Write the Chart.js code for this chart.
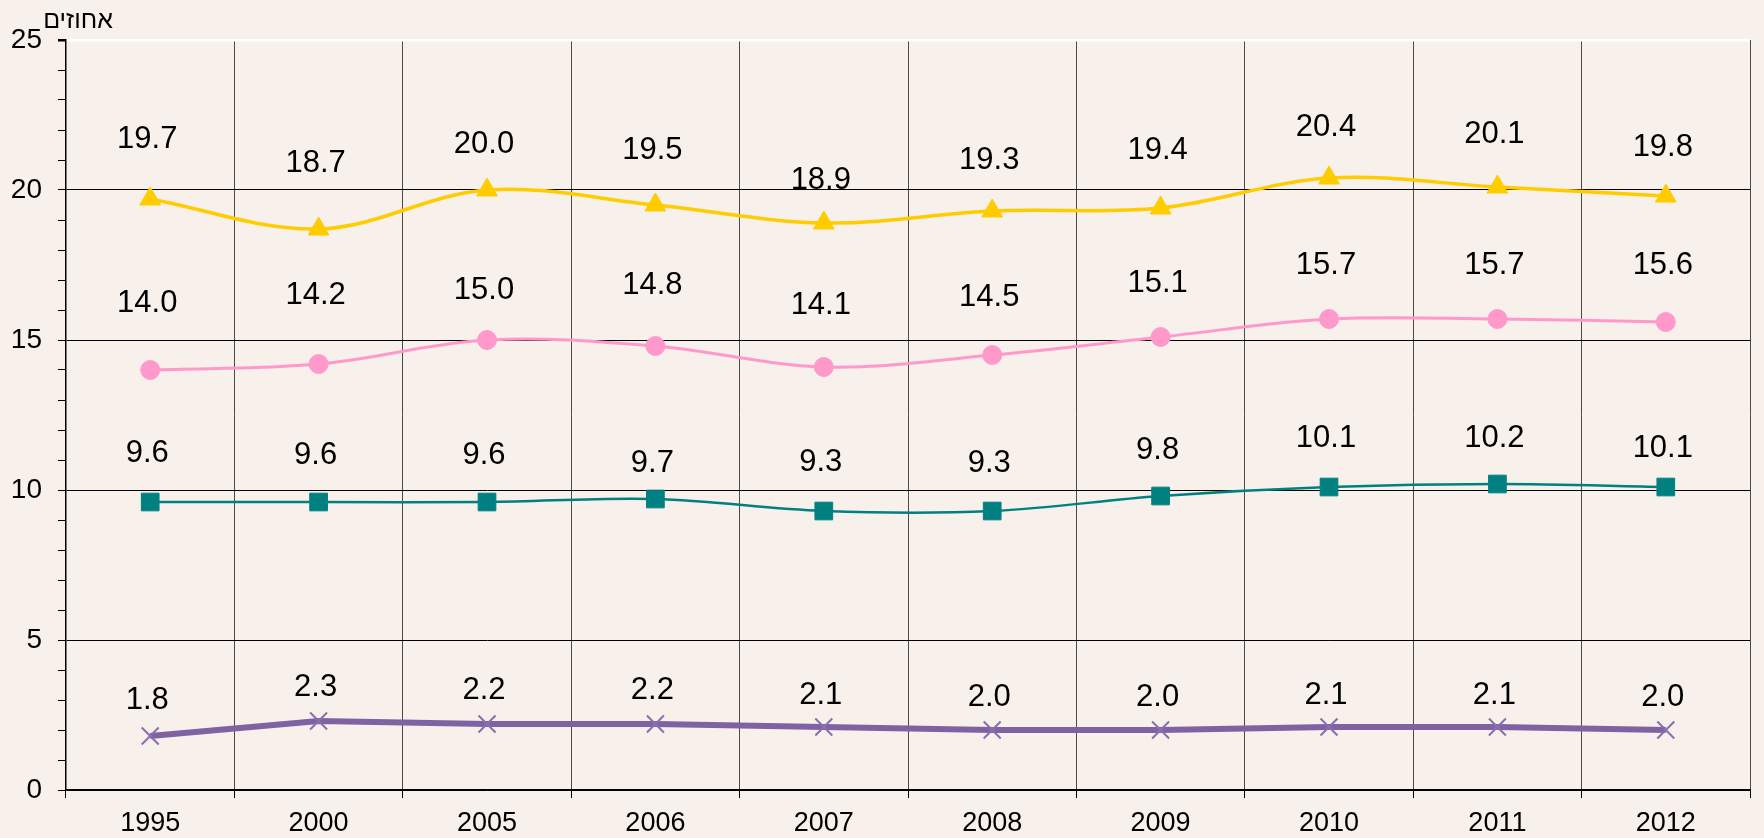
<!DOCTYPE html>
<html>
<head>
<meta charset="utf-8">
<script src="https://cdn.jsdelivr.net/npm/chart.js@4.4.1/dist/chart.umd.min.js"></script>
<style>
body { margin: 0; background: #f8f0ea; }
#wrap { width: 1764px; height: 838px; position: relative; }
</style>
</head>
<body>
<div id="wrap"><canvas id="chartPercent"></canvas></div>
<script>
var years = ['1995', '2000', '2005', '2006', '2007', '2008', '2009', '2010', '2011', '2012'];
var seriesYellow = [19.7, 18.7, 20.0, 19.5, 18.9, 19.3, 19.4, 20.4, 20.1, 19.8];
var seriesPink = [14.0, 14.2, 15.0, 14.8, 14.1, 14.5, 15.1, 15.7, 15.7, 15.6];
var seriesTeal = [9.6, 9.6, 9.6, 9.7, 9.3, 9.3, 9.8, 10.1, 10.2, 10.1];
var seriesPurple = [1.8, 2.3, 2.2, 2.2, 2.1, 2.0, 2.0, 2.1, 2.1, 2.0];
var yMin = 0;
var yMax = 25;
var yMajor = 5;
var yTitle = 'אחוזים';

// how far (px) each value label sits above its point, as placed in the original
var yellowLift = [60, 66, 46, 55, 43, 51, 58, 51, 53, 49];
var pinkLift = [67, 69, 50, 61, 62, 58, 54, 54, 54, 57];
var tealLift = [49, 47, 47, 36, 49, 48, 46, 49, 46, 39];
var purpleLift = [36, 34, 34, 34, 32, 33, 33, 32, 32, 33];

Chart.defaults.font.family = '"Liberation Sans", Arial, sans-serif';
Chart.defaults.color = '#000';

var valueLabels = {
    id: 'valueLabels',
    afterDatasetsDraw: function (chart) {
        var ctx = chart.ctx;
        ctx.save();
        ctx.font = '31px "Liberation Sans", Arial, sans-serif';
        ctx.fillStyle = '#000';
        ctx.textAlign = 'center';
        ctx.textBaseline = 'middle';
        chart.data.datasets.forEach(function (ds, i) {
            var meta = chart.getDatasetMeta(i);
            meta.data.forEach(function (pt, j) {
                ctx.fillText(ds.data[j].toFixed(1), pt.x - 3, pt.y - ds.labelLift[j]);
            });
        });
        // unit title at the top of the value axis
        ctx.font = '25px "Liberation Sans", Arial, sans-serif';
        ctx.textBaseline = 'alphabetic';
        ctx.fillText(yTitle, chart.chartArea.left + 12, 28);
        ctx.restore();
    }
};

var chartDashPercent = document.getElementById('chartPercent');

var chartPercent = new Chart(chartDashPercent, {
    type: 'line',
    data: {
        labels: years,
        datasets: [{
            data: seriesPurple,
            labelLift: purpleLift,
            borderColor: '#7f62a4',
            borderWidth: 6,
            tension: 0,
            pointStyle: 'crossRot',
            pointRadius: 12,
            pointBorderColor: '#8a6fb0',
            pointBorderWidth: 2,
            pointBackgroundColor: 'transparent'
        }, {
            data: seriesTeal,
            labelLift: tealLift,
            borderColor: '#008080',
            borderWidth: 2.5,
            tension: 0.35,
            pointStyle: 'rect',
            pointRadius: 12.5,
            pointBorderColor: '#008080',
            pointBorderWidth: 1,
            pointBackgroundColor: '#008080'
        }, {
            data: seriesPink,
            labelLift: pinkLift,
            borderColor: '#ff99cc',
            borderWidth: 3,
            tension: 0.35,
            pointStyle: 'circle',
            pointRadius: 9.5,
            pointBorderColor: '#ff99cc',
            pointBorderWidth: 1,
            pointBackgroundColor: '#ff99cc'
        }, {
            data: seriesYellow,
            labelLift: yellowLift,
            borderColor: '#ffcc00',
            borderWidth: 3.5,
            tension: 0.35,
            pointStyle: 'triangle',
            pointRadius: 12,
            pointBorderColor: '#ffcc00',
            pointBorderWidth: 1,
            pointBackgroundColor: '#ffcc00'
        }]
    },
    options: {
        responsive: true,
        maintainAspectRatio: false,
        animation: false,
        layout: {
            padding: { top: 40, right: 1, left: 0, bottom: 0 }
        },
        plugins: {
            legend: { display: false },
            tooltip: { enabled: false }
        },
        scales: {
            x: {
                offset: true,
                grid: {
                    offset: true,
                    color: '#4a4a4a',
                    lineWidth: 1,
                    tickLength: 8,
                    tickColor: '#000'
                },
                border: { color: '#000', width: 1.5 },
                ticks: {
                    font: { size: 27 },
                    padding: 9,
                    maxRotation: 0
                },
                afterFit: function (scale) { scale.height = 48; }
            },
            y: {
                min: yMin,
                max: yMax,
                grid: {
                    color: function (c) {
                        var v = c.tick.value;
                        if (v === yMax) return '#ffffff';
                        return v % yMajor === 0 ? '#000' : 'transparent';
                    },
                    lineWidth: function (c) {
                        return c.tick.value === yMax ? 2.5 : 1;
                    },
                    tickLength: 8,
                    tickColor: '#000'
                },
                border: { color: '#000', width: 1.5 },
                ticks: {
                    stepSize: 1,
                    autoSkip: false,
                    font: { size: 28 },
                    padding: 16,
                    callback: function (v) { return v % yMajor === 0 ? v : ''; }
                },
                afterFit: function (scale) { scale.width = 66; }
            }
        }
    },
    plugins: [valueLabels]
});
</script>
</body>
</html>
